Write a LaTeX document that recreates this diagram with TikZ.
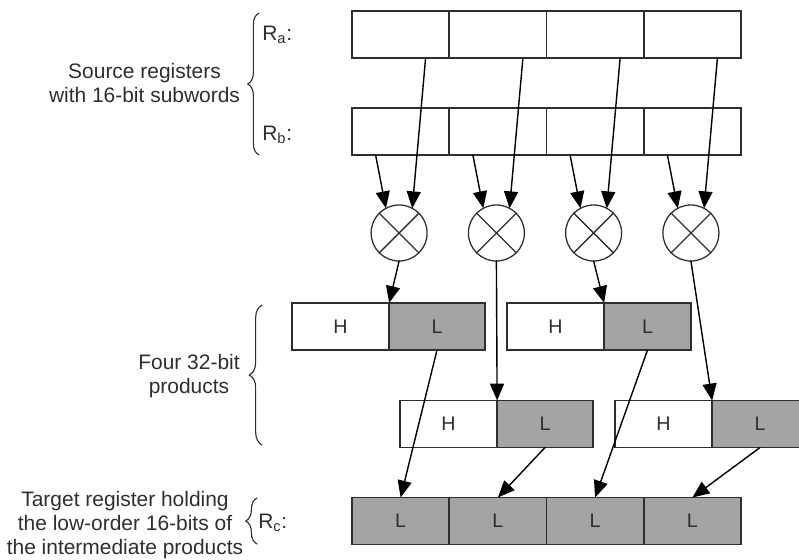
\documentclass[tikz,border=0pt]{standalone}
\usepackage{fontspec}
\setmainfont{Liberation Sans}
\usetikzlibrary{arrows.meta,decorations.pathreplacing}
\definecolor{lofill}{HTML}{A4A4A4}
\definecolor{inkgray}{HTML}{2E2E2E}

\begin{document}
\begin{tikzpicture}[x=0.025cm,y=-0.025cm,line cap=round,
  cell/.style={draw=inkgray,line width=1.2pt,minimum width=2.43cm,minimum height=1.175cm,
    inner sep=0pt,outer sep=0pt,font=\fontsize{14}{16}\selectfont,text=inkgray},
  lowcell/.style={cell,fill=lofill},
  mult/.style={circle,draw=inkgray,line width=0.9pt,minimum size=1.4cm,inner sep=0pt,outer sep=0pt},
  feed/.style={-{Triangle[length=12pt,width=10pt]},line width=1pt,draw=black},
  lbl/.style={font=\fontsize{14.9}{17}\selectfont,text=inkgray,align=center,inner sep=0pt},
  curly/.style={decorate,decoration={brace,amplitude=#1},line width=0.8pt,draw=inkgray}]
\useasboundingbox (0,0) rectangle (799,559);
%% source registers Ra, Rb, target register Rc and the multipliers
\foreach \i/\cx in {1/400.6,2/497.9,3/595.1,4/692.4}{
  \node[cell] (ra\i) at (\cx,34.5) {};
  \node[cell] (rb\i) at (\cx,131.5) {};
  \node[lowcell] (rc\i) at (\cx,521) {L};
  \node[mult] (m\i) at (\cx-1.5,233) {};
  \draw[inkgray,line width=0.9pt] (m\i.45) -- (m\i.225) (m\i.135) -- (m\i.315);
}
%% 32-bit products (high half, low half)
\foreach \n/\hx/\lx/\py/\lw in {1/340.5/437/326.5/2.4cm, 2/448.5/545/424/2.4cm,
                                3/555.5/647.5/326.5/2.175cm, 4/663.5/760/424/2.4cm}{
  \node[cell] (ph\n) at (\hx,\py) {H};
  \node[lowcell,minimum width=\lw] (pl\n) at (\lx,\py) {L};
}
%% operands into the multipliers
\foreach \i in {1,...,4}{
  \draw[feed] ([xshift=0.625cm]ra\i.south) -- (m\i.62);
  \draw[feed] ([xshift=-0.625cm]rb\i.south) -- (m\i.118);
  \draw[feed] (m\i.south) -- (ph\i.north east);
  \draw[feed] (pl\i.south) -- (rc\i.north);
}
%% braces and labels
\draw[curly=8pt] (259,155) -- (259,13);
\draw[curly=9pt] (262,445) -- (262,305);
\draw[curly=8pt] (257,544) -- (257,498);
\node[lbl] (srclbl) at (144.5,83) {Source registers\\with 16-bit subwords};
\node[lbl,anchor=base west] (ralbl) at (262,40) {R\textsubscript{a}:};
\node[lbl,anchor=base west] (rblbl) at (262,140) {R\textsubscript{b}:};
\node[lbl] (prodlbl) at (189,376) {Four 32-bit\\products};
\node[lbl,anchor=base west] (rclbl) at (258,528) {R\textsubscript{c}:};
\node[lbl] (tgtlbl) at (125,525) {Target register holding\\the low-order 16-bits of\\the intermediate products};
\end{tikzpicture}
\end{document}
